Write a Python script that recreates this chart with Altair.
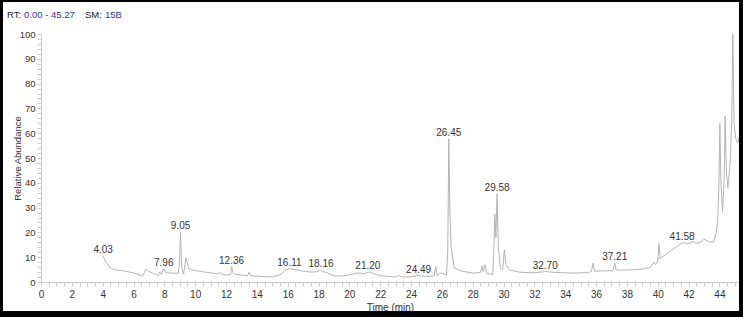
import altair as alt
import pandas as pd

# ---- data ----
times = [4.03, 4.2, 4.5, 4.8, 5.3, 6.0, 6.6, 6.72, 6.82, 7.0, 7.3, 7.6, 7.7, 7.8, 7.96, 8.1, 8.5, 8.9,
         8.98, 9.05, 9.12, 9.25, 9.4, 9.6, 10.0, 10.5, 11.0, 11.5, 11.6, 11.7, 12.0, 12.3, 12.36, 12.45,
         12.6, 13.0, 13.4, 13.5, 13.6, 14.0, 15.0, 15.5, 15.8, 16.1, 16.6, 17.0, 17.5, 17.9, 18.1, 18.2,
         18.5, 19.0, 19.5, 20.0, 20.5, 21.0, 21.3, 21.6, 22.0, 23.0, 23.2, 23.4, 24.0, 24.5, 25.0, 25.5,
         25.6, 25.7, 25.9, 26.1, 26.3, 26.38, 26.45, 26.52, 26.6, 26.8, 27.2, 28.0, 28.5, 28.6, 28.68,
         28.8, 28.9, 29.3, 29.38, 29.43, 29.5, 29.58, 29.66, 29.8, 29.95, 30.05, 30.15, 30.4, 31.0, 31.5,
         32.0, 32.7, 33.5, 34.5, 35.5, 35.7, 35.8, 35.9, 36.5, 37.1, 37.21, 37.3, 38.0, 39.0, 39.5, 39.75,
         39.85, 40.0, 40.08, 40.15, 40.5, 41.0, 41.58, 42.0, 42.3, 42.5, 42.8, 43.0, 43.3, 43.6, 43.8,
         43.9, 43.97, 44.03, 44.1, 44.2, 44.3, 44.37, 44.45, 44.55, 44.7, 44.8, 44.87, 44.95, 45.05,
         45.2, 45.27]
abundance = [10.5, 8.0, 5.7, 4.9, 4.5, 3.7, 2.5, 4.0, 5.3, 4.2, 3.5, 2.6, 4.0, 3.0, 5.3, 3.7, 3.6, 3.5,
             8.0, 20.0, 6.0, 3.2, 9.7, 5.3, 4.6, 4.1, 3.7, 3.2, 3.9, 3.3, 2.8, 3.0, 6.1, 3.8,
             3.2, 2.8, 2.5, 4.1, 2.6, 2.3, 2.1, 2.9, 4.5, 5.4, 4.9, 4.4, 4.0, 4.1, 4.9, 4.4,
             3.8, 2.5, 2.4, 2.8, 3.6, 3.4, 4.1, 3.3, 2.5, 2.0, 2.6, 2.0, 2.1, 2.6, 2.2, 2.4,
             6.3, 2.6, 3.6, 3.4, 2.8, 12.0, 57.7, 28.0, 14.0, 5.7, 4.5, 3.6, 3.8, 6.5, 4.2,
             7.0, 3.5, 3.0, 15.0, 27.5, 18.0, 35.5, 14.0, 5.5, 5.0, 13.0, 7.0, 4.8, 4.0, 3.8,
             3.7, 4.2, 3.8, 3.6, 3.8, 4.3, 7.5, 4.4, 4.5, 4.6, 7.7, 4.8, 4.8, 5.2, 5.8, 8.0,
             7.0, 8.5, 15.5, 9.5, 11.0, 13.2, 15.8, 15.5, 16.3, 15.6, 16.0, 17.3, 16.3, 16.0, 20.0,
             26.0, 40.0, 64.0, 40.0, 28.0, 40.0, 67.0, 45.0, 38.0, 48.0, 65.0, 100.0, 64.0, 58.0,
             56.0, 58.5]

peak_times = [4.03, 7.96, 9.05, 12.36, 16.11, 18.16, 21.20, 24.49, 26.45, 29.58, 32.70, 37.21, 41.58]
peak_heights = [10.5, 5.3, 20.0, 6.1, 5.4, 4.9, 4.1, 2.6, 57.7, 35.5, 4.2, 7.7, 15.8]

x_tick_values = [i * 0.5 for i in range(0, 91)]
y_tick_values = list(range(0, 101, 2))

header_parts = ["RT:", "0.00 - 45.27", "SM:", "15B"]
header_colors = ["#222222", "#33339a", "#222222", "#33339a"]
header_px = [-34, -17, 44, 64]

FONT = "Liberation Sans"

trace = pd.DataFrame({"t": times, "v": abundance})
peaks = pd.DataFrame({"t": peak_times, "v": peak_heights,
                      "label": [f"{t:.2f}" for t in peak_times]})
header = pd.DataFrame({"txt": header_parts, "col": header_colors, "px": header_px})

x_enc = alt.X("t:Q", scale=alt.Scale(domain=[0, 45.27], nice=False, zero=False),
              axis=alt.Axis(values=x_tick_values,
                            labelExpr="datum.value % 2 == 0 ? format(datum.value, 'd') : ''",
                            title="Time (min)", grid=False, domainColor="#c8c8c8",
                            tickColor="#c8c8c8", tickSize=4, labelColor="#333333",
                            labelFontSize=10, labelFont=FONT, labelPadding=3,
                            labelFlush=False, labelOverlap=False,
                            titleFont=FONT, titleFontSize=10, titleFontWeight="normal",
                            titleColor="#333333", titlePadding=3))
y_enc = alt.Y("v:Q", scale=alt.Scale(domain=[0, 100], nice=False),
              axis=alt.Axis(values=y_tick_values,
                            labelExpr="datum.value % 10 == 0 ? format(datum.value, 'd') : ''",
                            title="Relative Abundance", grid=False, domainColor="#c8c8c8",
                            tickColor="#c8c8c8", tickSize=4, labelColor="#333333",
                            labelFontSize=9.5, labelFont=FONT, labelPadding=2,
                            labelOverlap=False, labelFlush=False,
                            titleFont=FONT, titleFontSize=9.5, titleFontWeight="normal",
                            titleColor="#333333", titleX=-24, titleY=124,
                            titleBaseline="middle", titleAlign="center", titleAngle=270))

line = alt.Chart(trace).mark_line(color="#b4b4b4", strokeWidth=1).encode(x=x_enc, y=y_enc)

labels = alt.Chart(peaks).mark_text(baseline="bottom", dy=-1, fontSize=10, font=FONT,
                                    color="#333333").encode(
    x=x_enc, y=y_enc, text="label:N")

head = alt.Chart(header).mark_text(align="left", baseline="middle", fontSize=9.5,
                                   font=FONT).encode(
    x=alt.X("px:Q", scale=None), y=alt.value(-19), text="txt:N",
    color=alt.Color("col:N", scale=None))

one = pd.DataFrame({"a": [0]})
frame_left = alt.Chart(one).mark_rule(color="black", strokeWidth=3).encode(
    x=alt.value(-39.5), y=alt.value(-40), y2=alt.value(300))
frame_right = alt.Chart(one).mark_rule(color="black", strokeWidth=4).encode(
    x=alt.value(700), y=alt.value(-40), y2=alt.value(300))
frame_top = alt.Chart(one).mark_rule(color="black", strokeWidth=2).encode(
    x=alt.value(-45), x2=alt.value(710), y=alt.value(-33))
frame_bottom = alt.Chart(one).mark_rule(color="black", strokeWidth=6).encode(
    x=alt.value(-45), x2=alt.value(710), y=alt.value(280))

chart = alt.layer(line, labels, head, frame_left, frame_right, frame_top, frame_bottom).properties(
    width=698, height=248,
    padding={"left": 41, "top": 34, "right": 4, "bottom": 35},
    autosize=alt.AutoSizeParams(type="none"),
    background="white",
).configure_view(stroke=None)

chart.save("out.html", embed_options={"renderer": "svg", "actions": False})
